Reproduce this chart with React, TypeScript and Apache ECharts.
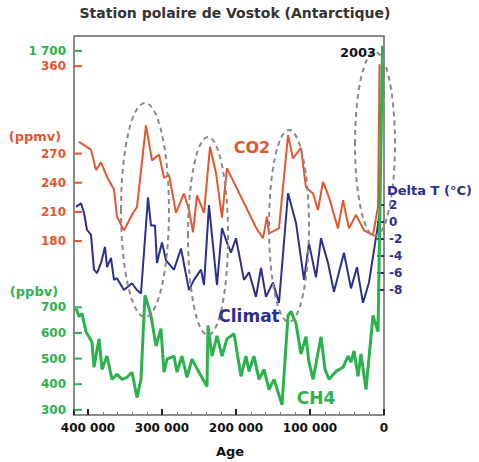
import React, { useEffect, useRef } from "react";
import * as echarts from "echarts";

// Age (years before present) and values
const co2Age = [412200, 395900, 389200, 382400, 374300, 364900, 360800, 351400, 340500, 333800, 321600, 313500, 304000, 297300, 290500, 281100, 270300, 263500, 258100, 252700, 243200, 235100, 227000, 218900, 212200, 200000, 186500, 173000, 163500, 158100, 155400, 141900, 129700, 123000, 112200, 105400, 95900, 89200, 82400, 74300, 62200, 55400, 47300, 37800, 27000, 14900, 8100, 6000];
const co2Val = [282, 274, 253, 261, 246, 233, 205, 191, 207, 215, 299, 263, 269, 245, 248, 209, 229, 212, 189, 227, 209, 277, 250, 204, 255, 236, 215, 194, 183, 205, 188, 193, 289, 265, 276, 235, 229, 212, 241, 225, 193, 222, 193, 207, 191, 186, 215, 362];

const tAge = [416200, 409400, 405400, 401400, 395900, 391900, 387800, 382400, 377000, 374300, 368900, 364900, 360800, 351400, 340500, 333800, 328400, 318900, 314900, 309500, 306800, 300000, 294600, 283800, 274300, 263500, 256800, 247300, 243200, 236500, 225700, 218900, 213500, 206800, 200000, 189200, 182400, 173000, 166200, 159500, 150000, 141900, 129700, 118900, 108100, 101400, 91900, 85100, 75700, 67600, 54100, 44600, 36500, 28400, 20300, 5400];
const tVal = [1.8, 2.2, 1.1, -0.9, -1.5, -5.6, -6.0, -4.8, -2.9, -5.3, -4.2, -6.8, -6.6, -8.0, -7.2, -8.0, -8.4, 2.9, -0.4, -0.4, -4.8, -2.4, -4.5, -5.6, -3.1, -8.0, -6.8, -5.6, -7.4, 2.0, -7.4, -0.7, -2.1, -3.6, -1.9, -6.8, -5.9, -8.8, -5.4, -8.8, -7.1, -9.5, 3.4, -0.1, -6.8, -2.5, -6.5, -1.9, -4.8, -8.2, -3.6, -7.8, -5.3, -9.5, -7.1, 1.2];

const ch4Age = [416200, 412200, 408100, 402700, 398600, 394600, 391900, 385100, 381100, 374300, 367600, 360800, 354100, 347300, 340500, 333800, 328400, 323000, 317600, 314900, 308100, 301400, 297300, 293200, 283800, 279700, 273000, 266200, 259500, 250000, 239200, 237800, 232400, 225700, 218900, 212200, 202700, 193200, 186500, 182400, 175700, 168900, 162200, 155400, 148600, 137800, 129700, 125700, 118900, 112200, 105400, 101400, 95900, 85100, 79700, 74300, 64900, 55400, 48600, 44600, 40500, 35100, 31100, 24300, 14900, 8100, 2000];
const ch4Val = [696, 664, 676, 605, 585, 565, 466, 577, 458, 510, 419, 439, 419, 427, 447, 348, 419, 747, 696, 668, 549, 617, 447, 498, 510, 447, 510, 427, 498, 447, 391, 629, 510, 589, 510, 577, 597, 431, 510, 450, 510, 419, 458, 379, 419, 320, 668, 684, 637, 518, 585, 486, 419, 585, 458, 419, 450, 466, 510, 486, 530, 431, 518, 379, 668, 605, 1720];

const co2Ticks = [180, 210, 240, 270, 360];
const ch4Ticks = [300, 400, 500, 600, 700, 1700];
const tTicks = [2, 0, -2, -4, -6, -8];

const AGE_MAX = 418900;
const ORANGE = "#e4572e";
const NAVY = "#2e2e8f";
const GREEN = "#2bb24c";
const FONT = "DejaVu Sans";

const zip = (a: number[], b: number[]) => a.map((x, i) => [x, b[i]]);
const fmtThousands = (v: number) => {
  const s = String(Math.round(v));
  return s.replace(/\B(?=(\d{3})+(?!\d))/g, " ");
};

// short tick marks drawn inward from the left frame, placed through the axis scale
const tickSeries = (xIdx: number, yIdx: number, values: number[], color: string) => ({
  type: "custom",
  xAxisIndex: xIdx,
  yAxisIndex: yIdx,
  silent: true,
  z: 6,
  data: values.map((v) => [AGE_MAX, v]),
  renderItem: (_params: any, api: any) => {
    const p = api.coord([api.value(0), api.value(1)]);
    return {
      type: "line",
      shape: { x1: p[0], y1: p[1], x2: p[0] + 8, y2: p[1] },
      style: { stroke: color, lineWidth: 2 },
    };
  },
});

export default function App() {
  const ref = useRef<HTMLDivElement>(null);
  useEffect(() => {
    if (!ref.current) return;
    const chart = echarts.init(ref.current, null, { renderer: "svg" });
    const txt = (text: string, x: number, y: number, size: number, fill: string, align = "center") => ({
      type: "text",
      x,
      y,
      style: { text, fill, font: `bold ${size}px "${FONT}"`, textAlign: align, textVerticalAlign: "middle" },
      z: 10,
    });
    const ell = (cx: number, cy: number, rx: number, ry: number) => ({
      type: "ellipse",
      shape: { cx, cy, rx, ry },
      style: { fill: "none", stroke: "#8a8a8a", lineWidth: 2, lineDash: [5, 4] },
      z: 5,
    });
    const gridRect = { left: 74, right: 95, top: 36, bottom: 47 };
    chart.setOption({
      animation: false,
      backgroundColor: "#ffffff",
      grid: [
        { ...gridRect, show: true, borderColor: "#666", borderWidth: 1.5 },
        { ...gridRect, show: false },
      ],
      xAxis: [
        {
          type: "value",
          gridIndex: 0,
          inverse: true,
          min: 0,
          max: AGE_MAX,
          interval: 100000,
          axisLine: { show: false, onZero: false },
          splitLine: { show: false },
          axisTick: { inside: true, length: 6, lineStyle: { color: "#222", width: 2 } },
          minorTick: { show: true, splitNumber: 5, length: 3, lineStyle: { color: "#777" } },
          axisLabel: {
            color: "#111",
            fontWeight: "bold",
            fontSize: 12,
            fontFamily: FONT,
            margin: 7,
            formatter: (v: number) => (v % 100000 === 0 ? (v === 0 ? "0" : fmtThousands(v)) : ""),
          },
        },
        {
          type: "value",
          gridIndex: 1,
          inverse: true,
          min: 0,
          max: AGE_MAX,
          show: false,
          axisLine: { onZero: false },
        },
      ],
      yAxis: [
        {
          type: "value",
          gridIndex: 0,
          position: "left",
          min: 1,
          max: 391,
          axisLine: { show: false },
          splitLine: { show: false },
          axisTick: { show: false },
          axisLabel: { customValues: co2Ticks, color: ORANGE, fontWeight: "bold", fontSize: 12, fontFamily: FONT, margin: 8 },
        },
        {
          type: "value",
          gridIndex: 0,
          position: "right",
          min: -22.7,
          max: 21.9,
          axisLine: { show: false },
          splitLine: { show: false },
          axisTick: { show: true, inside: true, length: 7, customValues: tTicks, lineStyle: { color: NAVY, width: 2 } },
          axisLabel: { customValues: tTicks, color: NAVY, fontWeight: "bold", fontSize: 12, fontFamily: FONT, margin: 5 },
        },
        {
          type: "value",
          gridIndex: 1,
          position: "left",
          min: 280,
          max: 1758,
          axisLine: { show: false },
          splitLine: { show: false },
          axisTick: { show: false },
          axisLabel: {
            customValues: ch4Ticks,
            color: GREEN,
            fontWeight: "bold",
            fontSize: 12,
            fontFamily: FONT,
            margin: 8,
            formatter: (v: number) => fmtThousands(v),
          },
        },
      ],
      series: [
        {
          type: "line",
          name: "CO2",
          xAxisIndex: 0,
          yAxisIndex: 0,
          showSymbol: false,
          data: zip(co2Age, co2Val),
          lineStyle: { color: ORANGE, width: 2 },
          z: 3,
        },
        {
          type: "line",
          name: "Delta T",
          xAxisIndex: 0,
          yAxisIndex: 1,
          showSymbol: false,
          data: zip(tAge, tVal),
          lineStyle: { color: NAVY, width: 2 },
          z: 3,
        },
        {
          type: "line",
          name: "CH4",
          xAxisIndex: 1,
          yAxisIndex: 2,
          showSymbol: false,
          data: zip(ch4Age, ch4Val),
          lineStyle: { color: GREEN, width: 3 },
          z: 4,
        },
        tickSeries(0, 0, co2Ticks, ORANGE),
        tickSeries(1, 2, ch4Ticks, GREEN),
      ],
      graphic: [
        ell(145, 210, 24, 107),
        ell(208, 236, 20, 99),
        ell(289, 226, 20, 96),
        ell(375, 144, 20, 92),
        txt("Station polaire de Vostok (Antarctique)", 235, 13, 14, "#333"),
        txt("(ppmv)", 35, 136, 13, ORANGE),
        txt("(ppbv)", 34, 291, 13, GREEN),
        txt("CO2", 252, 147, 16, ORANGE),
        txt("Climat", 249, 316, 17, NAVY),
        txt("CH4", 316, 398, 17, GREEN),
        txt("2003", 358, 52, 13, "#111"),
        txt("Age", 230, 451, 13, "#111"),
        txt("Delta T (°C)", 387, 190, 13, NAVY, "left"),
      ],
    });
    return () => chart.dispose();
  }, []);
  return <div ref={ref} style={{ position: "fixed", left: 0, top: 0, width: 479, height: 462 }} />;
}
